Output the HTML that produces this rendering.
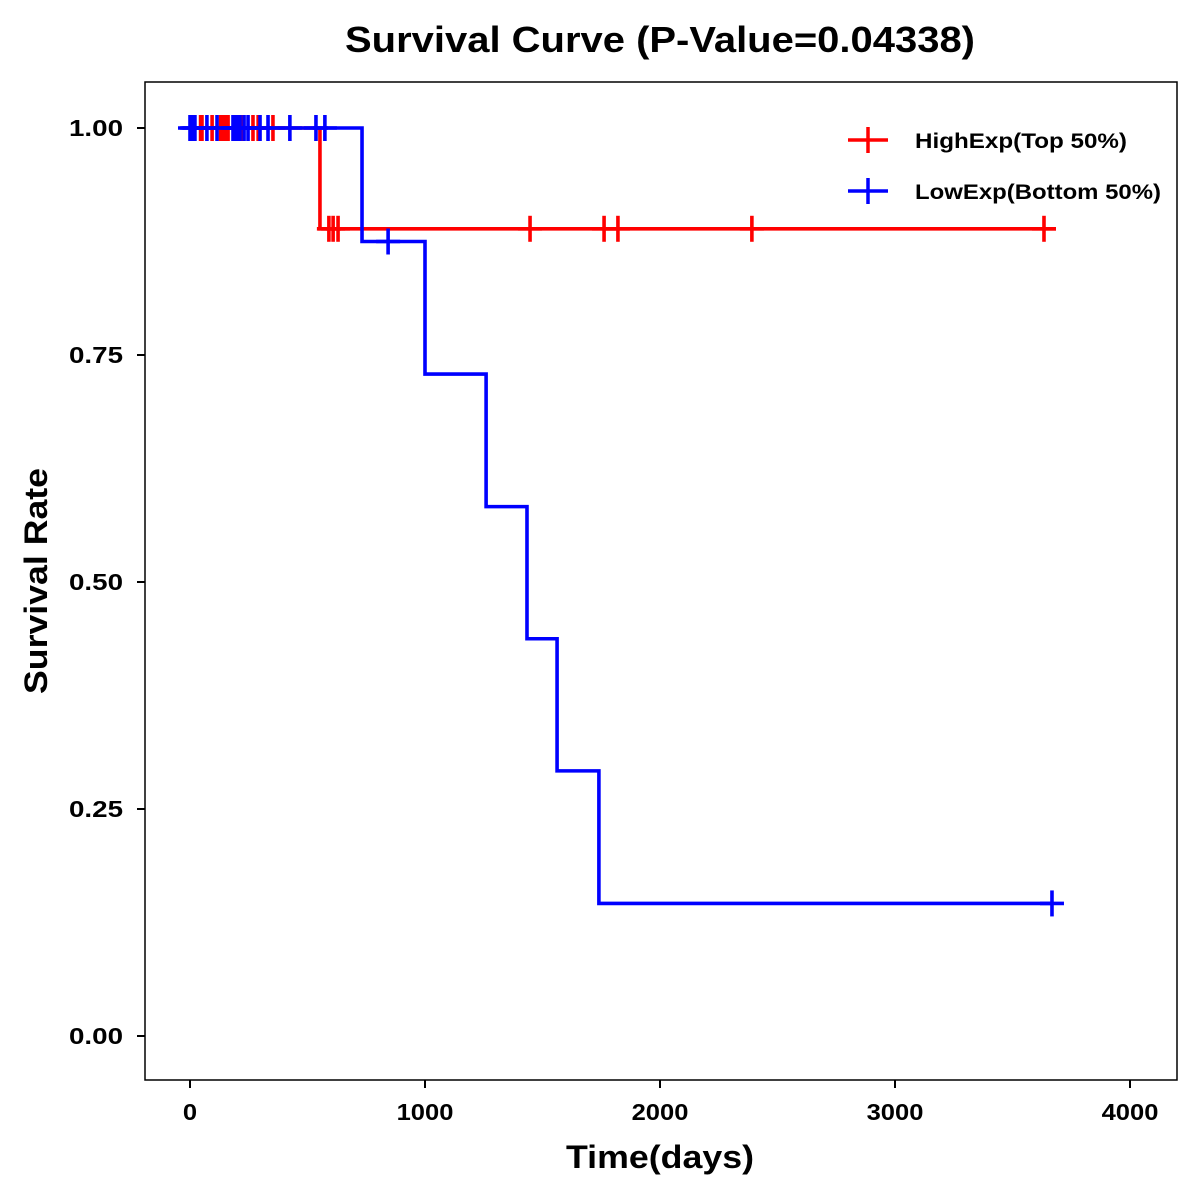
<!DOCTYPE html>
<html><head><meta charset="utf-8"><style>
html,body{margin:0;padding:0;background:#fff;}
svg{display:block;font-family:"Liberation Sans",Arial,sans-serif;font-weight:bold;}
</style></head><body>
<svg id="chart" width="1200" height="1200" viewBox="0 0 1200 1200">
<rect x="0" y="0" width="1200" height="1200" fill="#fff"/>
<text x="660" y="52" text-anchor="middle" font-size="36" textLength="630" lengthAdjust="spacingAndGlyphs">Survival Curve (P-Value=0.04338)</text>
<rect x="145" y="82" width="1032" height="998" fill="none" stroke="#000" stroke-width="1.5"/>
<g id="axes"></g>
<g id="series"></g>
<text x="660" y="1168" text-anchor="middle" font-size="32" textLength="188" lengthAdjust="spacingAndGlyphs">Time(days)</text>
<text transform="translate(47,581) rotate(-90)" text-anchor="middle" font-size="32" textLength="226" lengthAdjust="spacingAndGlyphs">Survival Rate</text>
<g>
<g>
<line x1="848" y1="140" x2="888" y2="140" stroke="red" stroke-width="3.5"/>
<line x1="868" y1="127" x2="868" y2="153" stroke="red" stroke-width="3.5"/>
<text x="915" y="148" font-size="21" textLength="212" lengthAdjust="spacingAndGlyphs">HighExp(Top 50%)</text>
</g>
<g>
<line x1="848" y1="191" x2="888" y2="191" stroke="blue" stroke-width="3.5"/>
<line x1="868" y1="178" x2="868" y2="204" stroke="blue" stroke-width="3.5"/>
<text x="915" y="199" font-size="21" textLength="246" lengthAdjust="spacingAndGlyphs">LowExp(Bottom 50%)</text>
</g>
</g>
</svg>
<script>
const xTicks=[0,1000,2000,3000,4000];
const yTicks=[0,0.25,0.5,0.75,1.0];
const yTickLabels=["0.00","0.25","0.50","0.75","1.00"];
const highStepTimes=[0,553,3685];
const highStepSurv=[1,0.889,0.889];
const highCensorTimes=[45,51,94,130,140,150,162,205,213,225,268,290,353,591,609,630,1447,1762,1821,2391,3634];
const lowStepTimes=[0,732,1000,1260,1434,1562,1740,3668];
const lowStepSurv=[1,0.875,0.729,0.583,0.4375,0.292,0.146,0.146];
const lowCensorTimes=[0,8,15,21,72,115,183,190,200,213,230,247,298,332,425,536,574,843,3668];

const NS="http://www.w3.org/2000/svg";
const xs=t=>190+t*0.235;
const ys=v=>1036-v*908;
function mk(tag,attrs,parent){const e=document.createElementNS(NS,tag);for(const k in attrs)e.setAttribute(k,attrs[k]);parent.appendChild(e);return e;}
const axes=document.getElementById('axes');
xTicks.forEach(t=>{
  const l=mk('line',{x1:xs(t),x2:xs(t),y1:1080,y2:1088,stroke:'#000','stroke-width':2},axes);
  
  
  const s=String(t);
  const tx=mk('text',{x:xs(t),y:1120,'text-anchor':'middle','font-size':23,textLength:s.length*14.2,lengthAdjust:'spacingAndGlyphs'},axes);
  tx.textContent=s;
  
  
});
yTicks.forEach((v,i)=>{
  const l=mk('line',{x1:137,x2:145,y1:ys(v),y2:ys(v),stroke:'#000','stroke-width':2},axes);
  
  
  const tx=mk('text',{x:123,y:ys(v)+8,'text-anchor':'end','font-size':23,textLength:54,lengthAdjust:'spacingAndGlyphs'},axes);
  tx.textContent=yTickLabels[i];
  
  
});
const series=document.getElementById('series');
function survAt(times,surv,t){let s=surv[0];for(let i=0;i<times.length;i++){if(times[i]<=t)s=surv[i];}return s;}
function drawSeries(times,surv,censors,color,name){
  let d='M'+xs(times[0])+','+ys(surv[0]);
  for(let i=1;i<times.length;i++){d+=' H'+xs(times[i])+' V'+ys(surv[i]);}
  const p=mk('path',{d:d,fill:'none',stroke:color,'stroke-width':3.6},series);
  
  
  censors.forEach(t=>{
    const y=ys(survAt(times,surv,t)),x=xs(t);
    const g=mk('g',{},series);
    
    
    mk('line',{x1:x-12,x2:x+12,y1:y,y2:y,stroke:color,'stroke-width':3.6},g);
    mk('line',{x1:x,x2:x,y1:y-13,y2:y+13,stroke:color,'stroke-width':3.6},g);
  });
}
drawSeries(highStepTimes,highStepSurv,highCensorTimes,'red','high-exp');
drawSeries(lowStepTimes,lowStepSurv,lowCensorTimes,'blue','low-exp');
</script>
</body></html>
